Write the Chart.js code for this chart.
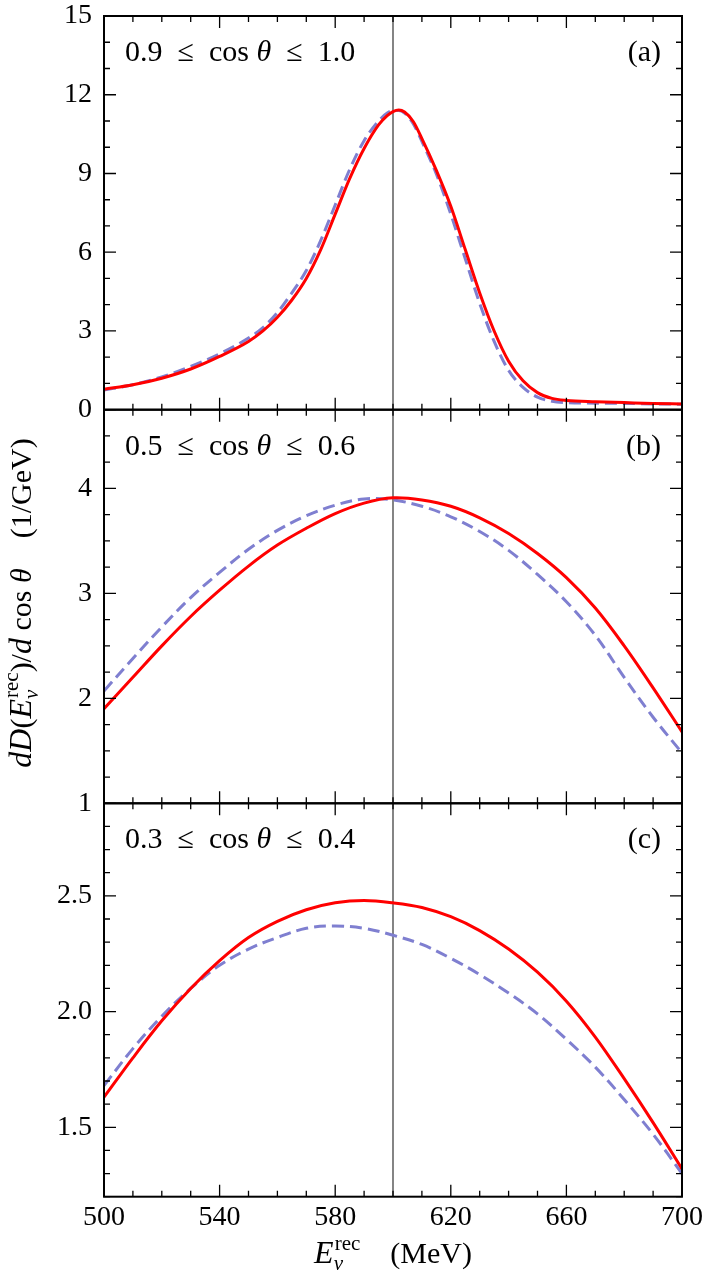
<!DOCTYPE html>
<html>
<head>
<meta charset="utf-8">
<script src="https://cdn.jsdelivr.net/npm/chart.js@4.4.0/dist/chart.umd.min.js"></script>
<style>
  html, body { margin: 0; padding: 0; background: #fff; }
  #wrap { position: relative; width: 706px; height: 1277px; }
  #wrap canvas { position: absolute; left: 0; top: 0; }
</style>
</head>
<body>
<div id="wrap">
  <canvas id="panelA" width="706" height="1277"></canvas>
  <canvas id="panelB" width="706" height="1277"></canvas>
  <canvas id="panelC" width="706" height="1277"></canvas>
</div>
<script>
// Energia reconstruida (MeV)
const xTicks = [500, 540, 580, 620, 660, 700];
const markerEnergy = 600;

// Panel (a): 0.9 <= cos th <= 1.0
const energyA = [500, 510, 520, 530, 540, 550, 555, 560, 565, 570, 575, 580, 585, 590, 595, 598, 600, 602, 604, 607, 610, 615, 620, 625, 630, 635, 640, 645, 650, 655, 660, 670, 680, 690, 700];
const redA = [0.78, 0.95, 1.2, 1.55, 2.03, 2.6, 3.0, 3.52, 4.18, 5.0, 6.1, 7.45, 8.8, 9.95, 10.85, 11.2, 11.36, 11.42, 11.34, 10.98, 10.33, 9.12, 7.75, 6.1, 4.45, 3.0, 1.85, 1.1, 0.65, 0.43, 0.35, 0.3, 0.27, 0.24, 0.22];
const blueA = [0.75, 0.95, 1.25, 1.65, 2.13, 2.73, 3.13, 3.7, 4.45, 5.3, 6.45, 7.8, 9.15, 10.25, 11.0, 11.3, 11.4, 11.4, 11.3, 10.9, 10.22, 8.98, 7.45, 5.75, 4.05, 2.6, 1.5, 0.85, 0.48, 0.32, 0.27, 0.25, 0.24, 0.22, 0.21];
const yTicksA = [0, 3, 6, 9, 12, 15];

// Panel (b) y (c)
const energyBC = [500, 510, 520, 530, 540, 550, 560, 570, 580, 590, 600, 610, 620, 630, 640, 650, 660, 670, 680, 690, 700];
const redB = [1.9, 2.2, 2.5, 2.78, 3.03, 3.26, 3.46, 3.62, 3.76, 3.86, 3.91, 3.89, 3.83, 3.72, 3.57, 3.38, 3.15, 2.86, 2.5, 2.1, 1.68];
const blueB = [2.07, 2.38, 2.68, 2.96, 3.2, 3.42, 3.6, 3.74, 3.84, 3.9, 3.89, 3.83, 3.73, 3.59, 3.41, 3.18, 2.92, 2.6, 2.2, 1.82, 1.48];
const yTicksB = [1, 2, 3, 4];

const redC = [1.63, 1.8, 1.96, 2.1, 2.22, 2.32, 2.39, 2.44, 2.47, 2.48, 2.47, 2.45, 2.41, 2.35, 2.27, 2.17, 2.045, 1.89, 1.71, 1.52, 1.32];
const blueC = [1.68, 1.84, 1.98, 2.1, 2.2, 2.27, 2.32, 2.36, 2.37, 2.36, 2.33, 2.29, 2.23, 2.16, 2.08, 1.99, 1.88, 1.76, 1.62, 1.47, 1.3];
const yTicksC = [1.5, 2.0, 2.5];

const W = 706, H = 1277;
const plotLeft = 104, plotRight = 682;
const serif = "'Liberation Serif', 'DejaVu Serif', serif";

function font(size, italic) {
  return (italic ? "italic " : "") + size + "px " + serif;
}

// Texto con cursivas, subindices y superindices
function drawRich(ctx, parts, x, y, align) {
  const widths = parts.map(p => {
    if (p.sub !== undefined) {
      ctx.font = font(p.size, true);
      const w1 = ctx.measureText(p.sub).width;
      ctx.font = font(p.size, false);
      const w2 = ctx.measureText(p.sup).width;
      return Math.max(w1, w2) + 1;
    }
    ctx.font = font(p.size, p.italic);
    return ctx.measureText(p.t).width;
  });
  const total = widths.reduce((s, w) => s + w, 0);
  let cx = align === "center" ? x - total / 2 : align === "right" ? x - total : x;
  ctx.fillStyle = "#000";
  ctx.textAlign = "left";
  ctx.textBaseline = "middle";
  parts.forEach((p, i) => {
    if (p.sub !== undefined) {
      ctx.font = font(p.size, true);
      ctx.fillText(p.sub, cx, y + 9);
      ctx.font = font(p.size, false);
      ctx.fillText(p.sup, cx + 1, y - 11);
    } else {
      ctx.font = font(p.size, p.italic);
      ctx.fillText(p.t, cx, y);
    }
    cx += widths[i];
  });
}

// Marco, marcas interiores y rotulos del panel
const framePlugin = {
  id: "frame",
  afterDatasetsDraw(chart, args, opts) {
    const { ctx, chartArea: a } = chart;
    const x = chart.scales.x, y = chart.scales.y;
    ctx.save();
    ctx.strokeStyle = "#000";
    ctx.lineWidth = 1.3;
    ctx.beginPath();
    for (let v = 500; v <= 700; v += 10) {
      const px = x.getPixelForValue(v);
      const len = xTicks.includes(v) ? 12 : 6;
      ctx.moveTo(px, a.bottom); ctx.lineTo(px, a.bottom - len);
      ctx.moveTo(px, a.top); ctx.lineTo(px, a.top + len);
    }
    const n = Math.round((y.max - y.min) / opts.minorStep);
    for (let i = 0; i <= n; i++) {
      const v = y.min + i * opts.minorStep;
      const py = y.getPixelForValue(v);
      const len = opts.majors.some(t => Math.abs(t - v) < 1e-6) ? 12 : 6;
      ctx.moveTo(a.left, py); ctx.lineTo(a.left + len, py);
      ctx.moveTo(a.right, py); ctx.lineTo(a.right - len, py);
    }
    ctx.stroke();
    ctx.lineWidth = 2;
    ctx.strokeRect(a.left, a.top, a.right - a.left, a.bottom - a.top);

    drawRich(ctx, [
      { t: opts.range[0] + "\u2002\u2264\u2002cos ", size: 30 },
      { t: "\u03b8", size: 30, italic: true },
      { t: "\u2002\u2264\u2002" + opts.range[1], size: 30 }
    ], a.left + 21, a.top + 37, "left");
    drawRich(ctx, [{ t: opts.tag, size: 30 }], a.right - 21, a.top + 37, "right");

    if (opts.xTitle) {
      drawRich(ctx, [
        { t: "E", size: 32, italic: true },
        { sub: "\u03bd", sup: "rec", size: 21 },
        { t: "    (MeV)", size: 30 }
      ], (a.left + a.right) / 2, 1255, "center");
    }
    if (opts.yTitle) {
      ctx.translate(23, 603);
      ctx.rotate(-Math.PI / 2);
      drawRich(ctx, [
        { t: "d", size: 32, italic: true },
        { t: "D", size: 32, italic: true },
        { t: "(", size: 30 },
        { t: "E", size: 32, italic: true },
        { sub: "\u03bd", sup: "rec", size: 21 },
        { t: ")/", size: 30 },
        { t: "d", size: 32, italic: true },
        { t: " cos ", size: 30 },
        { t: "\u03b8", size: 30, italic: true },
        { t: "    (1/GeV)", size: 30 }
      ], 0, 0, "center");
    }
    ctx.restore();
  }
};

function makePanel(id, cfg) {
  const pts = (xs, ys) => xs.map((e, i) => ({ x: e, y: ys[i] }));
  const smooth = cfg.monotone ? { cubicInterpolationMode: "monotone" } : { tension: 0.35 };
  new Chart(document.getElementById(id), {
    type: "line",
    data: {
      datasets: [
        Object.assign({ data: pts(cfg.energy, cfg.red), borderColor: "#ff0000", borderWidth: 3, pointRadius: 0 }, smooth),
        Object.assign({ data: pts(cfg.energy, cfg.blue), borderColor: "#7f7fd0", borderWidth: 3, borderDash: [12, 6], pointRadius: 0 }, smooth),
        { data: [{ x: markerEnergy, y: cfg.yMin }, { x: markerEnergy, y: cfg.yMax }], borderColor: "#333", borderWidth: 1.2, pointRadius: 0 }
      ]
    },
    plugins: [framePlugin],
    options: {
      responsive: false,
      animation: false,
      events: [],
      layout: { padding: { top: cfg.top, bottom: cfg.padBottom, left: 0, right: W - plotRight } },
      plugins: {
        legend: { display: false },
        tooltip: { enabled: false },
        frame: { minorStep: cfg.minorStep, majors: cfg.ticks, range: cfg.range, tag: cfg.tag, xTitle: cfg.xTitle, yTitle: cfg.yTitle }
      },
      scales: {
        x: {
          type: "linear", min: 500, max: 700,
          display: cfg.xTitle ? true : false,
          grid: { display: false, drawTicks: false },
          border: { display: false },
          afterBuildTicks: s => { s.ticks = xTicks.map(v => ({ value: v })); },
          afterFit: s => {
            s.height = cfg.xTitle ? 50 : 0;
            s.paddingLeft = 0; s.paddingRight = 0;
          },
          ticks: { color: "#000", padding: 4, maxRotation: 0, font: { family: serif, size: 28 } }
        },
        y: {
          min: cfg.yMin, max: cfg.yMax,
          grid: { display: false, drawTicks: false },
          border: { display: false },
          afterBuildTicks: s => { s.ticks = cfg.ticks.map(v => ({ value: v })); },
          afterFit: s => {
            s.width = plotLeft;
            s.paddingTop = 0; s.paddingBottom = 0;
          },
          ticks: { color: "#000", padding: 12, font: { family: serif, size: 28 }, callback: cfg.fmt }
        }
      }
    }
  });
}

makePanel("panelA", {
  energy: energyA, red: redA, blue: blueA, yMin: 0, yMax: 15, ticks: yTicksA, minorStep: 1, monotone: true,
  top: 16, padBottom: H - 409.7, range: ["0.9", "1.0"], tag: "(a)", fmt: v => String(v)
});
makePanel("panelB", {
  energy: energyBC, red: redB, blue: blueB, yMin: 1, yMax: 4.75, ticks: yTicksB, minorStep: 0.25,
  top: 409.7, padBottom: H - 803.3, range: ["0.5", "0.6"], tag: "(b)", fmt: v => String(v), yTitle: true
});
makePanel("panelC", {
  energy: energyBC, red: redC, blue: blueC, yMin: 1.2, yMax: 2.9, ticks: yTicksC, minorStep: 0.1,
  top: 803.3, padBottom: H - 1196.7 - 50, range: ["0.3", "0.4"], tag: "(c)", fmt: v => v.toFixed(1), xTitle: true
});
</script>
</body>
</html>
